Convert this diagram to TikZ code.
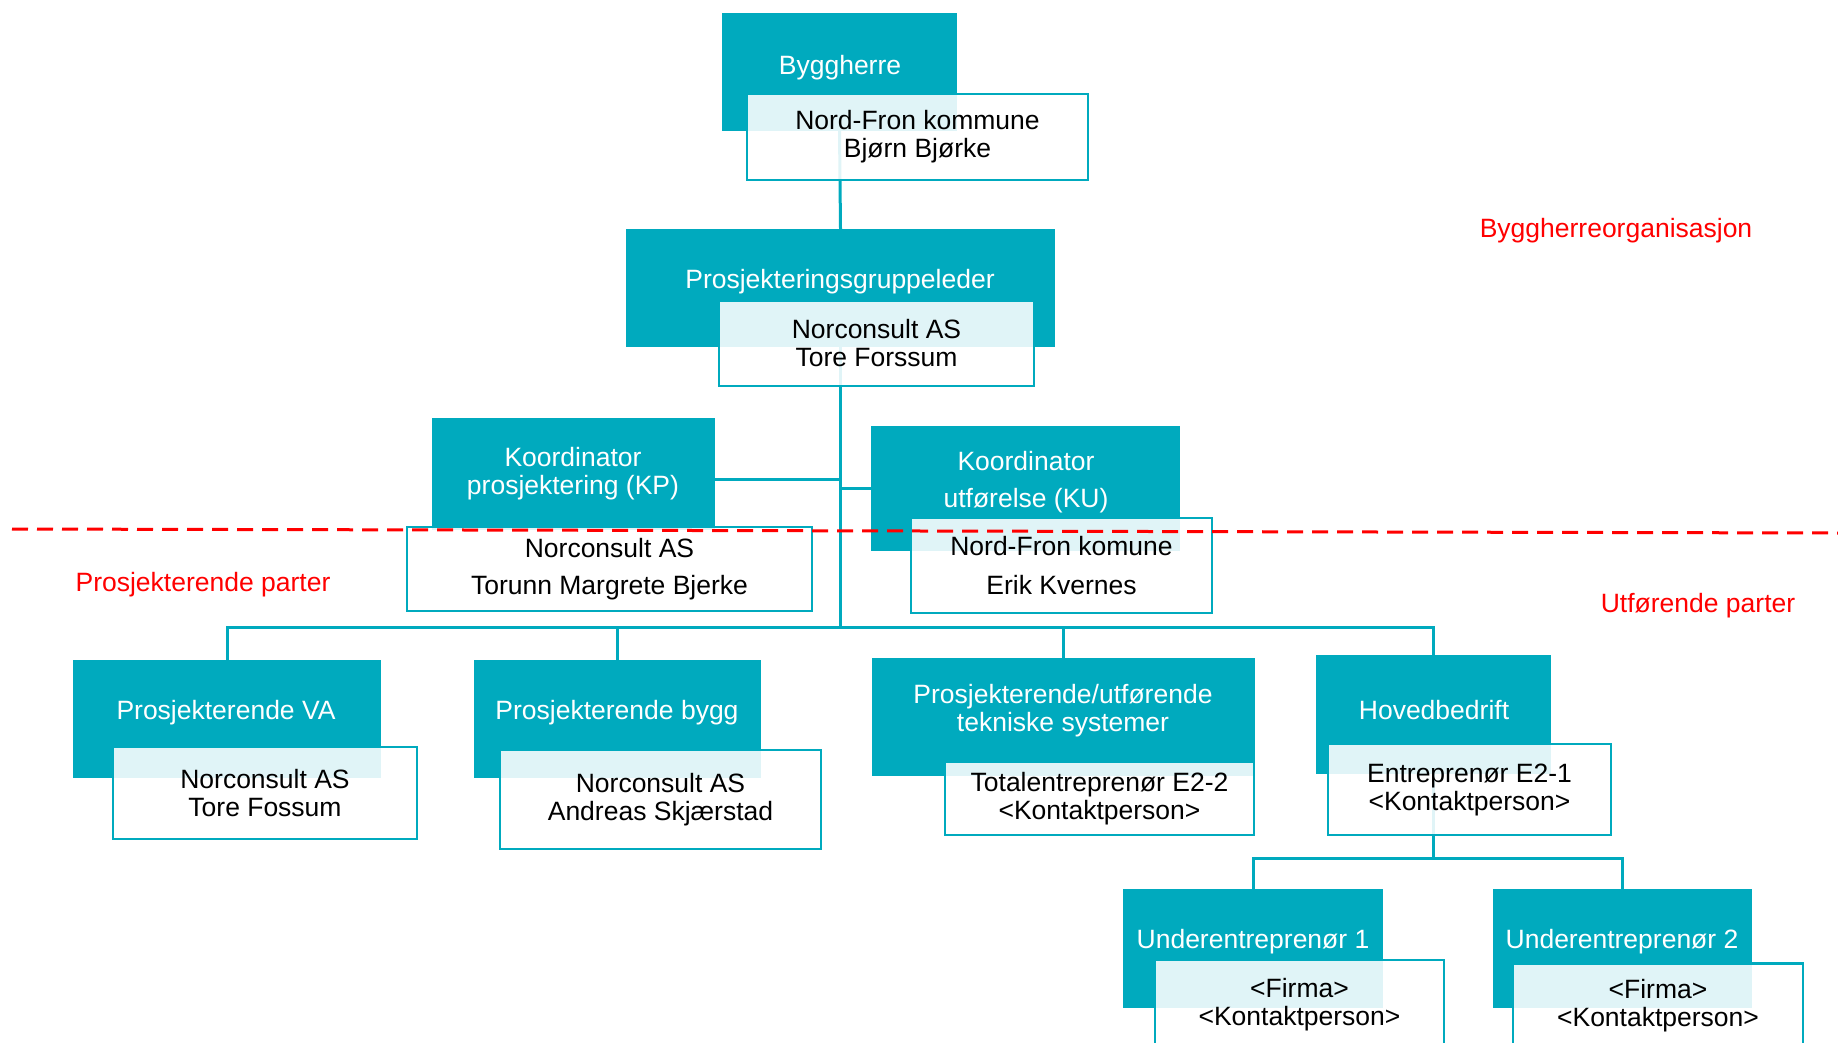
\documentclass[tikz,border=0pt]{standalone}
\usepackage{fontspec}
\setmainfont{Liberation Sans}
\usetikzlibrary{backgrounds}
\definecolor{orgteal}{HTML}{00AABE}
\definecolor{orgred}{HTML}{FF0000}

\begin{document}
\begin{tikzpicture}[x=1pt,y=-1pt,
  font=\fontsize{26.5}{28}\selectfont,
  head/.style={fill=orgteal, inner sep=0pt},
  headtext/.style={text=white, align=center, inner sep=0pt},
  card/.style={draw=orgteal, line width=2.5pt, fill=white, fill opacity=0.88,
    text opacity=1, align=center, inner sep=0pt},
  link/.style={draw=orgteal, line width=3pt},
  side/.style={text=orgred, inner sep=0pt}]
\useasboundingbox (0,0) rectangle (1838,1042);

% byggherre
\node[head, minimum width=235pt, minimum height=118pt] (bh) at (839.5,72) {};
\node[headtext] (bht) at (840,68) {Byggherre};
\node[card, minimum width=341pt, minimum height=86pt] (bhc) at (917.5,137)
  {Nord-Fron kommune\\Bjørn Bjørke};

% prosjekteringsgruppeleder
\node[head, minimum width=429pt, minimum height=118pt] (pgl) at (840.5,288) {};
\node[headtext] (pglt) at (840,282) {Prosjekteringsgruppeleder};
\node[card, minimum width=315pt, minimum height=85pt] (pglc) at (876.5,343.5)
  {Norconsult AS\\Tore Forssum};

% koordinatorer
\node[head, minimum width=283pt, minimum height=112pt] (kp) at (573.5,474) {};
\node[headtext] (kpt) at (573,474) {Koordinator\\prosjektering (KP)};
\node[card, minimum width=405pt, minimum height=84pt] (kpc) at (609.5,569)
  {Norconsult AS\\[9pt]Torunn Margrete Bjerke};

\node[head, minimum width=309pt, minimum height=125pt] (ku) at (1025.5,488.5) {};
\node[headtext] (kut) at (1026,482.5) {Koordinator\\[9pt]utførelse (KU)};
\node[card, minimum width=301pt, minimum height=95pt] (kuc) at (1061.5,565.5)
  {Nord-Fron komune\\[11pt]Erik Kvernes};

% prosjekterende og utfoerende
\node[head, minimum width=308pt, minimum height=118pt] (va) at (227,719) {};
\node[headtext] (vat) at (226,713) {Prosjekterende VA};
\node[card, minimum width=304pt, minimum height=92pt] (vac) at (265,793)
  {Norconsult AS\\Tore Fossum};

\node[head, minimum width=287pt, minimum height=118pt] (bygg) at (617.5,719) {};
\node[headtext] (byggt) at (617,713) {Prosjekterende bygg};
\node[card, minimum width=321pt, minimum height=99pt] (byggc) at (660.5,799.5)
  {Norconsult AS\\Andreas Skjærstad};

\node[head, minimum width=383pt, minimum height=118pt] (tek) at (1063.5,717) {};
\node[headtext] (tekt) at (1063,711) {Prosjekterende/utførende\\tekniske systemer};
\node[card, minimum width=309pt, minimum height=73pt] (tekc) at (1099.5,798.5)
  {Totalentreprenør E2-2\\<Kontaktperson>};

\node[head, minimum width=235pt, minimum height=119pt] (hoved) at (1433.5,714.5) {};
\node[headtext] (hovedt) at (1434,710) {Hovedbedrift};
\node[card, minimum width=283pt, minimum height=91pt] (hovedc) at (1469.5,789.5)
  {Entreprenør E2-1\\<Kontaktperson>};

% underentreprenoerer
\node[head, minimum width=260pt, minimum height=119pt] (ue1) at (1253,948.5) {};
\node[headtext] (ue1t) at (1253,942) {Underentreprenør 1};
\node[card, minimum width=289pt, minimum height=89pt] (ue1c) at (1299.5,1004.5)
  {<Firma>\\<Kontaktperson>};

\node[head, minimum width=259pt, minimum height=119pt] (ue2) at (1622.5,948.5) {};
\node[headtext] (ue2t) at (1622,942) {Underentreprenør 2};
\node[card, minimum width=290pt, minimum height=85pt] (ue2c) at (1658,1006)
  {<Firma>\\<Kontaktperson>};

% lines
\coordinate (bus) at (840.5,627);
\coordinate (hbus) at (1433.5,858);
\begin{scope}[on background layer]
\draw[link] (bh.south) -- (pgl.north);
\draw[link] (pgl.south) -- (bus);
\draw[link] ([yshift=-5pt]kp.east) -- ([yshift=-5pt]kp.east -| bus);
\draw[link] (ku.west) -- (ku.west -| bus);
\draw[link] (va.north) |- (bus) -| (hoved.north);
\draw[link] (bygg.north) -- (bygg.north |- bus);
\draw[link] (tek.north) -- (tek.north |- bus);
\draw[link] (hoved.south) -- (hbus);
\draw[link] (ue1.north) |- (hbus) -| (ue2.north);
\end{scope}

% skillelinje
\draw[orgred, line width=3pt, dash pattern=on 16pt off 9pt] (12,529) -- (1838,533);
\node[side] (bho) at (1616,231) {Byggherreorganisasjon};
\node[side] (pp) at (203,585) {Prosjekterende parter};
\node[side] (up) at (1698,606) {Utførende parter};
\end{tikzpicture}
\end{document}
